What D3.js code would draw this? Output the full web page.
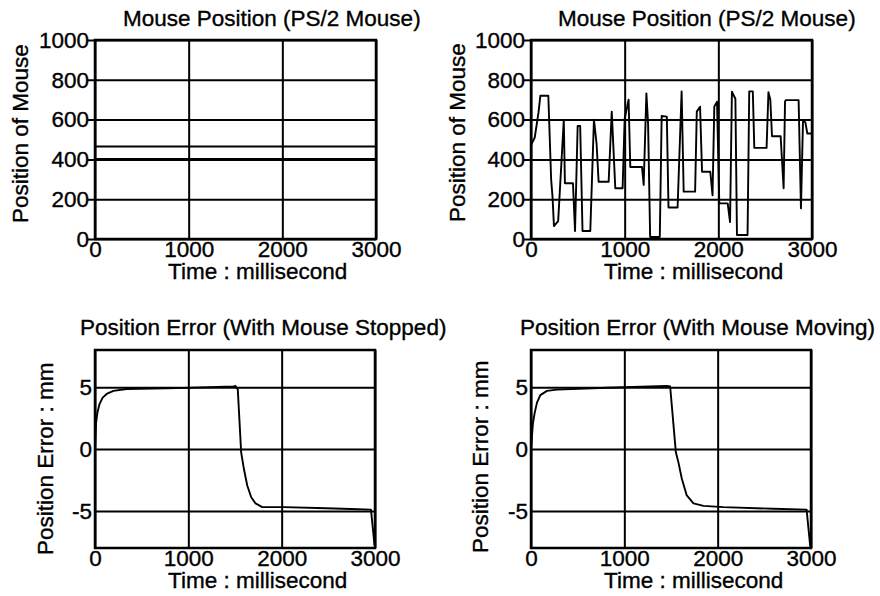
<!DOCTYPE html>
<html>
<head>
<meta charset="utf-8">
<script src="https://cdn.jsdelivr.net/npm/d3@7"></script>
<style>
  body { margin: 0; background: #fff; }
  svg { display: block; font-family: "Liberation Sans", Arial, Helvetica, sans-serif; }
  text { stroke: #000; stroke-width: 0.35px; fill: #000; }
</style>
</head>
<body>
<div id="chart"></div>
<script>
// tick values
const timeTicks = [0, 1000, 2000, 3000];
const positionTicks = [0, 200, 400, 600, 800, 1000];
const errorTicks = [-5, 0, 5];

// mouse stopped: three flat traces
const stoppedTimes = [0, 3000];
const stoppedLevels = [598, 465, 402];

// mouse moving: position trace
const movingTimes = [0, 40, 80, 100, 185, 215, 230, 245, 290, 350, 362, 448, 470, 498, 525, 550, 633, 672, 700, 722,
  829, 862, 900, 978, 1000, 1042, 1060, 1185, 1203, 1232, 1250, 1272, 1375, 1395, 1450, 1468, 1565, 1608, 1630, 1752,
  1770, 1805, 1826, 1914, 1938, 1957, 1986, 2010, 2100, 2125, 2145, 2182, 2199, 2312, 2330, 2368, 2384, 2515, 2535, 2555,
  2573, 2665, 2697, 2712, 2720, 2857, 2882, 2904, 2930, 2950, 3000];
const movingPositions = [472, 510, 635, 720, 720, 300, 210, 65, 90, 598, 280, 280, 40, 568, 568, 40, 40, 600, 480, 288,
  288, 640, 255, 255, 605, 700, 362, 362, 272, 732, 580, 10, 10, 618, 615, 158, 158, 742, 238, 238,
  640, 665, 338, 338, 220, 665, 690, 179, 179, 85, 740, 705, 20, 20, 742, 742, 458, 458, 738, 700,
  516, 516, 255, 690, 698, 698, 154, 595, 585, 530, 530];

// position error, mouse stopped
const errStoppedTimes = [0, 11, 25, 47, 82, 125, 197, 340, 770, 1487, 1505, 1530, 1566, 1595, 1631, 1674, 1720, 1792, 2025, 2383, 2742, 2957, 2995];
const errStoppedValues = [0, 2.1, 2.9, 3.6, 4.15, 4.45, 4.7, 4.85, 4.9, 5.05, 5.1, 4.8, -0.27, -1.6, -2.95, -3.9, -4.4, -4.7, -4.7, -4.77, -4.85, -4.9, -7.8];

// position error, mouse moving
const errMovingTimes = [0, 21, 39, 64, 100, 171, 278, 813, 1455, 1491, 1552, 1580, 1616, 1669, 1741, 1848, 2062, 2597, 2953, 2992];
const errMovingValues = [0, 2.1, 2.9, 3.75, 4.35, 4.7, 4.8, 4.95, 5.1, 5.05, -0.27, -1.1, -2.4, -3.75, -4.4, -4.6, -4.7, -4.83, -4.9, -7.9];

const zip = (xs, ys) => xs.map((t, i) => ({ t, v: ys[i] }));

const panels = [
  {
    left: 95, top: 40, width: 281, height: 199,
    title: 'Mouse Position (PS/2 Mouse)', titleX: 123, titleY: 26,
    yLabel: 'Position of Mouse', yLabelX: 28, yLabelY: 223,
    yDomain: [0, 1000], yTicks: positionTicks, yPad: 6, outerTick: 7,
    series: stoppedLevels.map(level => zip(stoppedTimes, stoppedTimes.map(() => level)))
  },
  {
    left: 531, top: 40, width: 281, height: 199,
    title: 'Mouse Position (PS/2 Mouse)', titleX: 558, titleY: 26,
    yLabel: 'Position of Mouse', yLabelX: 465, yLabelY: 222,
    yDomain: [0, 1000], yTicks: positionTicks, yPad: 6, outerTick: 7,
    series: [zip(movingTimes, movingPositions)]
  },
  {
    left: 95, top: 350, width: 280, height: 198,
    title: 'Position Error (With Mouse Stopped)', titleX: 80, titleY: 335,
    yLabel: 'Position Error : mm', yLabelX: 53, yLabelY: 555,
    yDomain: [-8, 8], yTicks: errorTicks, yPad: 3, outerTick: 0,
    series: [zip(errStoppedTimes, errStoppedValues)]
  },
  {
    left: 531, top: 350, width: 280, height: 198,
    title: 'Position Error (With Mouse Moving)', titleX: 520, titleY: 335,
    yLabel: 'Position Error : mm', yLabelX: 488, yLabelY: 553,
    yDomain: [-8, 8], yTicks: errorTicks, yPad: 3, outerTick: 0,
    series: [zip(errMovingTimes, errMovingValues)]
  }
];

const svg = d3.select('#chart')
  .append('svg')
  .attr('width', 880)
  .attr('height', 596);

const fontSize = 22.5;
const plain = d => String(d);

panels.forEach(p => {
  const g = svg.append('g').attr('transform', `translate(${p.left},${p.top})`);

  const x = d3.scaleLinear().domain([0, 3000]).range([0, p.width]);
  const y = d3.scaleLinear().domain(p.yDomain).range([p.height, 0]);

  const xAxis = g.append('g')
    .attr('transform', `translate(0,${p.height})`)
    .call(d3.axisBottom(x).tickValues(timeTicks).tickFormat(plain)
      .tickSize(-p.height).tickSizeOuter(0).tickPadding(2));

  const yAxis = g.append('g')
    .call(d3.axisLeft(y).tickValues(p.yTicks).tickFormat(plain)
      .tickSize(-p.width).tickSizeOuter(0).tickPadding(p.yPad));

  [xAxis, yAxis].forEach(ax => {
    ax.select('.domain').remove();
    ax.selectAll('.tick line').attr('stroke', '#000').attr('stroke-width', 2);
    ax.selectAll('.tick text')
      .attr('fill', '#000')
      .style('font-size', `${fontSize}px`)
      .style('font-family', '"Liberation Sans", Arial, sans-serif');
  });

  if (p.outerTick) yAxis.selectAll('.tick line').attr('x1', -p.outerTick);

  const line = d3.line().x(d => x(d.t)).y(d => y(d.v));

  g.selectAll('.trace')
    .data(p.series)
    .enter()
    .append('path')
    .attr('class', 'trace')
    .attr('d', line)
    .attr('fill', 'none')
    .attr('stroke', '#000')
    .attr('stroke-width', 1.9)
    .attr('stroke-linejoin', 'round');

  g.append('rect')
    .attr('width', p.width)
    .attr('height', p.height)
    .attr('fill', 'none')
    .attr('stroke', '#000')
    .attr('stroke-width', 2.5);

  svg.append('text')
    .attr('x', p.titleX)
    .attr('y', p.titleY)
    .style('font-size', `${fontSize}px`)
    .text(p.title);

  svg.append('text')
    .attr('x', p.left + 73)
    .attr('y', p.top + p.height + 40)
    .style('font-size', `${fontSize}px`)
    .text('Time : millisecond');

  svg.append('text')
    .attr('transform', `translate(${p.yLabelX},${p.yLabelY}) rotate(-90)`)
    .style('font-size', `${fontSize}px`)
    .text(p.yLabel);
});
</script>
</body>
</html>
